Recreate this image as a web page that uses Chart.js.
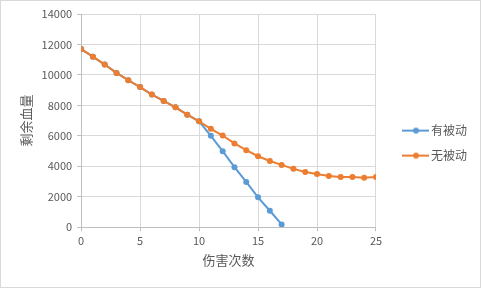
<!DOCTYPE html>
<html>
<head>
<meta charset="utf-8">
<script src="https://cdn.jsdelivr.net/npm/chart.js@4"></script>
<style>
    html, body { margin: 0; padding: 0; background: #ffffff; }
    #wrap { width: 481px; height: 288px; }
</style>
</head>
<body>
<div id="wrap"><canvas id="hpChart" width="481" height="288"></canvas></div>
<script>
// Data
const hitsWithPassive = [0, 1, 2, 3, 4, 5, 6, 7, 8, 9, 10, 11, 12, 13, 14, 15, 16, 17];
const hpWithPassive = [11700, 11200, 10680, 10130, 9650, 9200, 8710, 8290, 7870, 7390, 6950, 6000, 4990, 3940, 2970, 1960, 1080, 180];
const hitsNoPassive = [0, 1, 2, 3, 4, 5, 6, 7, 8, 9, 10, 11, 12, 13, 14, 15, 16, 17, 18, 19, 20, 21, 22, 23, 24, 25];
const hpNoPassive = [11700, 11200, 10680, 10130, 9650, 9200, 8710, 8290, 7870, 7390, 6950, 6460, 6020, 5500, 5060, 4660, 4350, 4090, 3830, 3630, 3490, 3360, 3300, 3290, 3240, 3290];
const seriesNames = ['有被动', '无被动'];
const seriesColors = ['#5b9bd5', '#ed7d31'];
const xTitle = '伤害次数';
const yTitle = '剩余血量';

const font = "'Noto Sans CJK SC', 'Open Sans', sans-serif";
const textColor = '#595959';
const gridColor = '#d9d9d9';
const axisColor = '#bfbfbf';

function toPoints(xs, ys) {
    return xs.map((x, i) => ({ x: x, y: ys[i] }));
}

// legend marker: line with a dot, drawn in the right part of the image
function legendMarker(color) {
    const c = document.createElement('canvas');
    c.width = 44;
    c.height = 8;
    const g = c.getContext('2d');
    g.strokeStyle = color;
    g.lineWidth = 2;
    g.beginPath();
    g.moveTo(17, 4);
    g.lineTo(44, 4);
    g.stroke();
    g.fillStyle = color;
    g.beginPath();
    g.arc(31, 4, 3, 0, Math.PI * 2);
    g.fill();
    return c;
}

// outer light border like the spreadsheet chart frame
const frame = {
    id: 'frame',
    afterDraw(chart) {
        const c = chart.ctx;
        c.save();
        c.strokeStyle = '#d9d9d9';
        c.lineWidth = 1;
        c.strokeRect(0.5, 0.5, chart.width - 1, chart.height - 1);
        c.restore();
    }
};

const ctx = document.getElementById('hpChart').getContext('2d');

new Chart(ctx, {
    type: 'line',
    data: {
        datasets: [
            {
                label: seriesNames[0],
                data: toPoints(hitsWithPassive, hpWithPassive),
                borderColor: seriesColors[0],
                backgroundColor: seriesColors[0],
                borderWidth: 2,
                pointRadius: 3,
                pointBorderWidth: 0,
                tension: 0,
                order: 1
            },
            {
                label: seriesNames[1],
                data: toPoints(hitsNoPassive, hpNoPassive),
                borderColor: seriesColors[1],
                backgroundColor: seriesColors[1],
                borderWidth: 2,
                pointRadius: 3,
                pointBorderWidth: 0,
                tension: 0,
                order: 0
            }
        ]
    },
    options: {
        responsive: false,
        animation: false,
        layout: {
            padding: { top: 14, right: 4, bottom: 20, left: 18 }
        },
        plugins: {
            legend: {
                position: 'right',
                title: {
                    display: true,
                    text: '',
                    font: { size: 1 },
                    padding: { top: 3, bottom: 0 }
                },
                labels: {
                    usePointStyle: true,
                    pointStyleWidth: 36,
                    font: { size: 12, family: font },
                    color: textColor,
                    padding: 13,
                    sort: (a, b) => a.datasetIndex - b.datasetIndex,
                    generateLabels: function(chart) {
                        return chart.data.datasets.map((ds, i) => ({
                            text: ds.label,
                            fillStyle: ds.borderColor,
                            strokeStyle: ds.borderColor,
                            pointStyle: legendMarker(ds.borderColor),
                            fontColor: textColor,
                            datasetIndex: i,
                            hidden: false
                        }));
                    }
                }
            },
            tooltip: { enabled: false }
        },
        scales: {
            x: {
                type: 'linear',
                min: 0,
                max: 25,
                ticks: {
                    stepSize: 5,
                    color: textColor,
                    font: { size: 11, family: font },
                    padding: 3
                },
                grid: {
                    color: gridColor,
                    tickColor: axisColor,
                    tickLength: 4
                },
                border: { color: axisColor },
                title: {
                    display: true,
                    text: xTitle,
                    color: textColor,
                    font: { size: 13, family: font },
                    padding: { top: 2, bottom: 0 }
                }
            },
            y: {
                min: 0,
                max: 14000,
                ticks: {
                    stepSize: 2000,
                    color: textColor,
                    font: { size: 11, family: font },
                    padding: 5,
                    callback: (value) => String(value)
                },
                grid: {
                    color: gridColor,
                    tickColor: axisColor,
                    tickLength: 4
                },
                border: { color: axisColor },
                title: {
                    display: true,
                    text: yTitle,
                    color: textColor,
                    font: { size: 13, family: font },
                    padding: { top: 0, bottom: 3 }
                }
            }
        }
    },
    plugins: [frame]
});
</script>
</body>
</html>
